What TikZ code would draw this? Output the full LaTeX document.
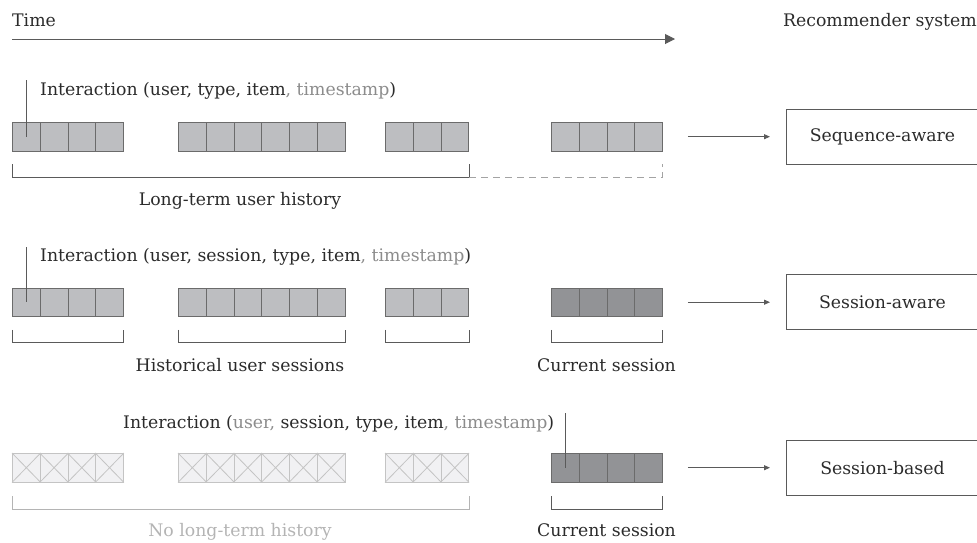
\documentclass[tikz,border=0pt]{standalone}
\usepackage{fontspec}
\setmainfont{DejaVu Serif}
\usetikzlibrary{arrows.meta,calc}
\definecolor{ink}{HTML}{2B2B2B}
\definecolor{rule}{HTML}{5A5A5A}
\definecolor{soft}{HTML}{8C8C8C}
\definecolor{faint}{HTML}{B4B4B4}
\definecolor{cellfill}{HTML}{BDBEC1}
\definecolor{cellline}{HTML}{6B6B6B}
\definecolor{darkfill}{HTML}{929396}
\definecolor{voidfill}{HTML}{F1F1F3}
\definecolor{voidline}{HTML}{C4C4C4}
\tikzset{
  txt/.style={text=ink, inner sep=0pt, font=\fontsize{17.3}{21}\selectfont},
  cell/.style={draw=cellline, line width=0.9pt, fill=cellfill, inner sep=0pt,
    minimum width=27.75pt, minimum height=28.5pt, anchor=north west},
  curcell/.style={cell, fill=darkfill},
  voidcell/.style={cell, draw=voidline, fill=voidfill},
  tick/.style={draw=rule, line width=0.9pt},
  bracket/.style={draw=rule, line width=0.9pt},
  softbracket/.style={draw=faint, line width=0.9pt},
  dashbracket/.style={draw=soft!80, line width=0.9pt, dash pattern=on 7pt off 5pt},
  sysbox/.style={draw=rule, line width=0.9pt, minimum width=192pt, minimum height=55pt,
    inner sep=0pt, text=ink, font=\fontsize{17.3}{21}\selectfont},
  feed/.style={draw=rule, line width=0.9pt, -{Triangle[length=6pt,width=5pt]}},
  axis/.style={draw=rule, line width=1pt, -{Triangle[length=10pt,width=10pt]}}
}
\newcommand{\softpart}[1]{\textcolor{soft}{#1}}
\begin{document}
\begin{tikzpicture}[x=1pt,y=-1pt]
\useasboundingbox (0,0) rectangle (977,542);

% time axis and column headings
\node[txt, anchor=base west] (time) at (12,26) {Time};
\node[txt, anchor=base east] (recsys) at (977,26) {Recommender system};
\coordinate (t0) at (12,39);
\coordinate (t1) at (675,39);
\draw[axis] (t0) -- (t1);

% interaction cells: three rows, four groups each
\foreach \g/\gx/\n in {1/12/4,2/178/6,3/385/3,4/551/4}{
  \foreach \c in {1,...,\n}{
    \node[cell] (r1g\g c\c) at ({\gx+(\c-1)*27.75},122) {};
  }
}
\foreach \g/\gx/\n in {1/12/4,2/178/6,3/385/3}{
  \foreach \c in {1,...,\n}{
    \node[cell] (r2g\g c\c) at ({\gx+(\c-1)*27.75},287.5) {};
    \node[voidcell] (r3g\g c\c) at ({\gx+(\c-1)*27.75},453) {};
    \draw[voidline, line width=0.8pt]
      (r3g\g c\c.north west) -- (r3g\g c\c.south east)
      (r3g\g c\c.south west) -- (r3g\g c\c.north east);
  }
}
\foreach \c in {1,...,4}{
  \node[curcell] (r2g4c\c) at ({551+(\c-1)*27.75},287.5) {};
  \node[curcell] (r3g4c\c) at ({551+(\c-1)*27.75},453) {};
}

% row 1: sequence-aware
\node[txt, anchor=base west] (int1) at (40,95)
  {Interaction (user, type, item\softpart{, timestamp})};
\coordinate (p1) at (r1g1c1.center |- 0,80);
\draw[tick] (p1) -- (r1g1c1.center);
\draw[bracket] ($(r1g1c1.south west)+(0,13)$) -- ++(0,13) -| ($(r1g3c3.south east)+(0,13)$);
\draw[dashbracket] ($(r1g3c3.south east)+(0,26)$) -| ($(r1g4c4.south east)+(0,13)$);
\node[txt, anchor=base] (hist1) at (240,205) {Long-term user history};
\node[sysbox, anchor=west] (sys1) at (r1g4c4.east -| 786,0) {Sequence-aware};
\draw[feed] ($(r1g4c4.east)+(25,0)$) -- ($(sys1.west)+(-16,0)$);

% row 2: session-aware
\node[txt, anchor=base west] (int2) at (40,261)
  {Interaction (user, session, type, item\softpart{, timestamp})};
\coordinate (p2) at (r2g1c1.center |- 0,247);
\draw[tick] (p2) -- (r2g1c1.center);
\foreach \g/\n in {1/4,2/6,3/3,4/4}{
  \draw[bracket] ($(r2g\g c1.south west)+(0,13)$) -- ++(0,13) -| ($(r2g\g c\n.south east)+(0,13)$);
}
\node[txt, anchor=base] (hist2) at (240,371) {Historical user sessions};
\node[txt, anchor=base] (cur2) at (606.5,371) {Current session};
\node[sysbox, anchor=west] (sys2) at (r2g4c4.east -| 786,0) {Session-aware};
\draw[feed] ($(r2g4c4.east)+(25,0)$) -- ($(sys2.west)+(-16,0)$);

% row 3: session-based
\node[txt, anchor=base west] (int3) at (123,428)
  {Interaction (\softpart{user,} session, type, item\softpart{, timestamp})};
\coordinate (p3) at (r3g4c1.center |- 0,413);
\draw[tick] (p3) -- (r3g4c1.center);
\draw[softbracket] ($(r3g1c1.south west)+(0,14)$) -- ++(0,13) -| ($(r3g3c3.south east)+(0,14)$);
\draw[bracket] ($(r3g4c1.south west)+(0,14)$) -- ++(0,13) -| ($(r3g4c4.south east)+(0,14)$);
\node[txt, anchor=base, text=faint] (hist3) at (240,536) {No long-term history};
\node[txt, anchor=base] (cur3) at (606.5,536) {Current session};
\node[sysbox, anchor=west] (sys3) at (r3g4c4.east -| 786,0) {Session-based};
\draw[feed] ($(r3g4c4.east)+(25,0)$) -- ($(sys3.west)+(-16,0)$);
\end{tikzpicture}
\end{document}
